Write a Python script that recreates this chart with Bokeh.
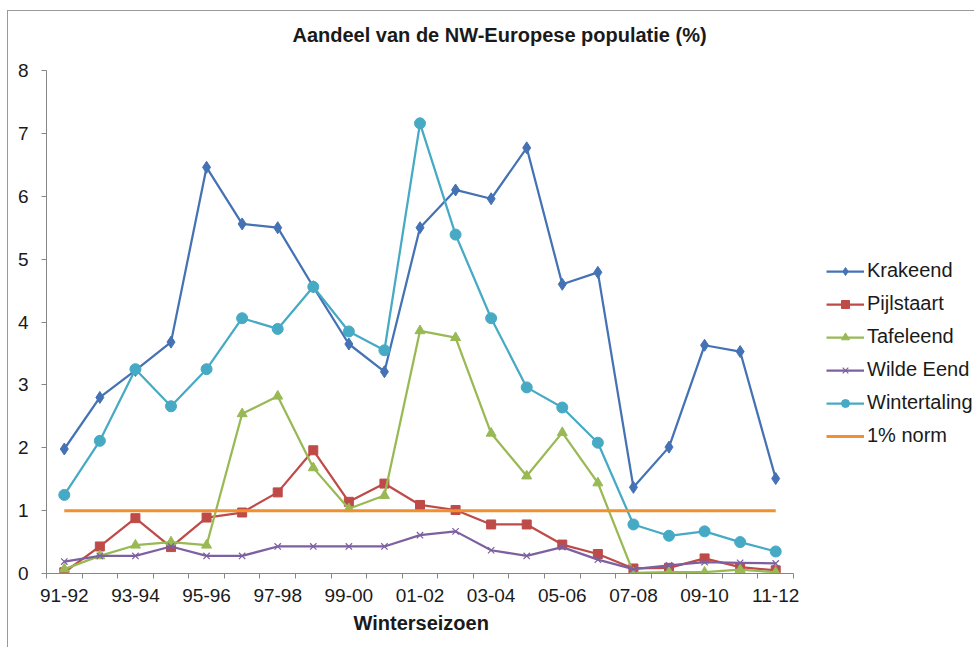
from bokeh.plotting import figure
from bokeh.models import FixedTicker, Legend, LegendItem, Title
from bokeh.embed import file_html
from bokeh.resources import INLINE

seasons = ["91-92", "92-93", "93-94", "94-95", "95-96", "96-97", "97-98",
           "98-99", "99-00", "00-01", "01-02", "02-03", "03-04", "04-05",
           "05-06", "06-07", "07-08", "08-09", "09-10", "10-11", "11-12"]

krakeend = [1.98, 2.80, 3.23, 3.68, 6.46, 5.56, 5.50, 4.56, 3.65, 3.21, 5.50,
            6.10, 5.96, 6.77, 4.60, 4.79, 1.37, 2.01, 3.63, 3.53, 1.51]
pijlstaart = [0.02, 0.43, 0.88, 0.42, 0.89, 0.97, 1.29, 1.96, 1.14, 1.43, 1.09,
              1.01, 0.78, 0.78, 0.46, 0.31, 0.08, 0.09, 0.24, 0.10, 0.05]
tafeleend = [0.07, 0.28, 0.45, 0.50, 0.45, 2.54, 2.82, 1.68, 1.03, 1.24, 3.86,
             3.75, 2.23, 1.55, 2.24, 1.44, 0.01, 0.02, 0.02, 0.06, 0.02]
wilde_eend = [0.19, 0.28, 0.28, 0.43, 0.28, 0.28, 0.43, 0.43, 0.43, 0.43, 0.61,
              0.67, 0.37, 0.28, 0.42, 0.22, 0.07, 0.13, 0.18, 0.17, 0.16]
wintertaling = [1.25, 2.11, 3.25, 2.66, 3.25, 4.06, 3.89, 4.56, 3.85, 3.55, 7.16,
                5.39, 4.06, 2.96, 2.64, 2.08, 0.78, 0.60, 0.67, 0.50, 0.35]
norm_1pct = [1.0] * len(seasons)

series_names = ["Krakeend", "Pijlstaart", "Tafeleend", "Wilde Eend", "Wintertaling"]
y_ticks = [0, 1, 2, 3, 4, 5, 6, 7, 8]

x = list(range(len(seasons)))
n = len(seasons)

FONT = "Liberation Sans"
TXT = "#1a1a1a"

# layout (screen px inside the figure)
W, H = 974, 647
LEFT, TOP, BOTTOM_B, RIGHT_B = 46, 68, 74, 0
DATA_W = 747                     # width of the category axis
FRAME_W = W - LEFT - RIGHT_B     # frame extends under the legend
x_end = -0.5 + n * FRAME_W / DATA_W

p = figure(width=W, height=H, output_backend="svg", toolbar_location=None,
           x_range=(-0.5, x_end), y_range=(0, 8),
           min_border_left=LEFT, min_border_top=TOP, min_border_right=RIGHT_B,
           min_border_bottom=BOTTOM_B, background_fill_color="white",
           border_fill_color=None)
# chart-area border (top and left edge), drawn behind the transparent canvas border
p.styles = {"background": "linear-gradient(#9a9a9a, #9a9a9a) 7px 10px / 100% 1px no-repeat, "
                          "linear-gradient(#9a9a9a, #9a9a9a) 7px 10px / 1px 100% no-repeat, #ffffff"}
p.outline_line_color = None
p.xgrid.visible = False
p.ygrid.visible = False

p.title.text = "Aandeel van de NW-Europese populatie (%)"
p.title.text_font = FONT
p.title.text_font_size = "20px"
p.title.text_font_style = "bold"
p.title.text_color = TXT
p.title.align = "left"
p.title.vertical_align = "top"
p.title.offset = 246
p.title.standoff = 46

# axes
AX = "#868686"
xa = p.xaxis[0]
xa.bounds = (-0.5, n - 0.5)
xa.ticker = FixedTicker(ticks=x[::2], minor_ticks=[i - 0.5 for i in range(n + 1)])
xa.major_label_overrides = {i: seasons[i] for i in x[::2]}
xa.major_tick_out = 0
xa.major_tick_in = 0
xa.minor_tick_out = 5
xa.minor_tick_in = 0
xa.minor_tick_line_color = AX
xa.axis_line_color = AX
xa.major_label_text_font = FONT
xa.major_label_text_font_size = "19px"
xa.major_label_text_color = TXT
xa.major_label_standoff = 10

xtitle = Title(text="Winterseizoen", align="left", offset=307, standoff=11,
               text_font=FONT, text_font_size="20px", text_font_style="bold",
               text_color=TXT)
p.add_layout(xtitle, "below")

ya = p.yaxis[0]
ya.ticker = FixedTicker(ticks=y_ticks)
ya.major_tick_out = 5
ya.major_tick_in = 0
ya.minor_tick_out = 0
ya.minor_tick_in = 0
ya.major_tick_line_color = AX
ya.axis_line_color = AX
ya.major_label_text_font = FONT
ya.major_label_text_font_size = "19px"
ya.major_label_text_color = TXT
ya.major_label_standoff = 13

colors = ["#4472B4", "#BE4B48", "#98B954", "#7D60A0", "#46AAC5"]
markers = ["diamond", "square", "triangle", "x", "circle"]
sizes = [12, 9, 10, 9, 11]
data = [krakeend, pijlstaart, tafeleend, wilde_eend, wintertaling]

items = []
for name, vals, c, m, s in zip(series_names, data, colors, markers, sizes):
    ln = p.line(x, vals, line_color=c, line_width=2.25)
    if m == "x":
        sc = p.scatter(x, vals, marker=m, size=s, line_color=c, line_width=1.2)
    else:
        sc = p.scatter(x, vals, marker=m, size=s, fill_color=c, line_color=c)
    items.append(LegendItem(label=name, renderers=[ln, sc]))

nl = p.line(x, norm_1pct, line_color="#F0902F", line_width=3)
items.append(LegendItem(label="1% norm", renderers=[nl]))

legend = Legend(items=items, location=(780, 126), orientation="vertical")
legend.border_line_color = None
legend.background_fill_alpha = 0
legend.label_text_font = FONT
legend.label_text_font_size = "20px"
legend.label_text_color = TXT
legend.glyph_width = 38
legend.glyph_height = 20
legend.label_height = 20
legend.label_standoff = 3
legend.spacing = 10
legend.padding = 10
legend.margin = 0
p.add_layout(legend, "center")

open("out.html", "w").write(file_html(p, INLINE))
